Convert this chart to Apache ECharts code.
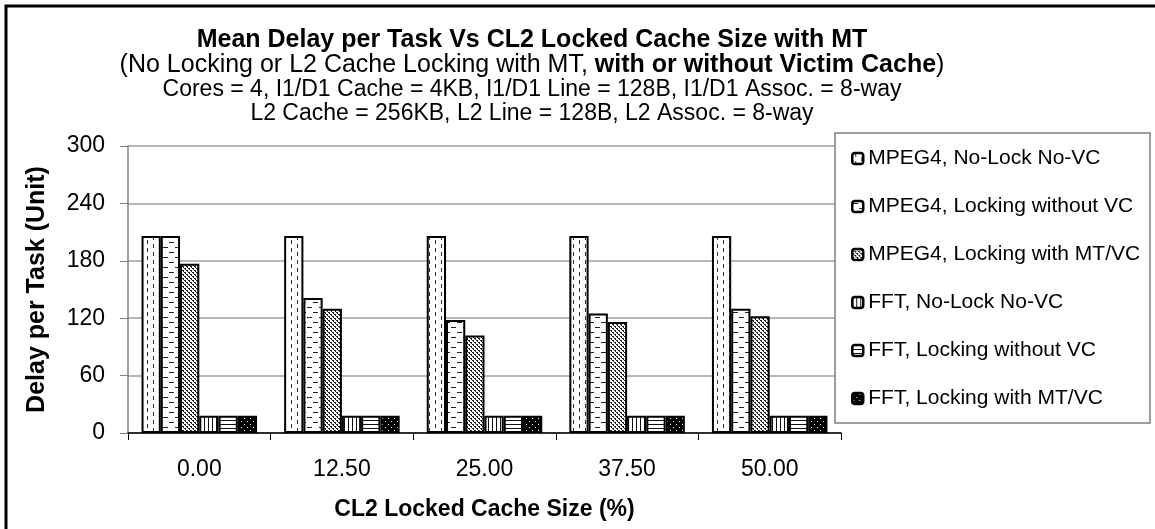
<!DOCTYPE html>
<html>
<head>
<meta charset="utf-8">
<script src="https://cdn.jsdelivr.net/npm/echarts@6/dist/echarts.min.js"></script>
<style>
html,body{margin:0;padding:0;background:#fff;}
#c{width:1155px;height:529px;}
</style>
</head>
<body>
<div id="c"></div>
<script>
// ---- data ----
const categories = ['0.00', '12.50', '25.00', '37.50', '50.00'];
const seriesNames = [
  'MPEG4, No-Lock No-VC',
  'MPEG4, Locking without VC',
  'MPEG4, Locking with MT/VC',
  'FFT, No-Lock No-VC',
  'FFT, Locking without VC',
  'FFT, Locking with MT/VC'
];
const mpegNoLock = [206, 206, 206, 206, 206];
const mpegLockNoVC = [206, 141, 118, 125, 130];
const mpegLockMTVC = [177, 130, 102, 116, 122];
const fftNoLock = [18, 18, 18, 18, 18];
const fftLockNoVC = [18, 18, 18, 18, 18];
const fftLockMTVC = [18, 18, 18, 18, 18];
const yTicks = [0, 60, 120, 180, 240, 300];

const titleLines = [
  'Mean Delay per Task Vs CL2 Locked Cache Size with MT',
  '(No Locking or L2 Cache Locking with MT, ',
  'with or without Victim Cache',
  ')',
  'Cores = 4, I1/D1 Cache = 4KB, I1/D1 Line = 128B, I1/D1 Assoc. = 8-way',
  'L2 Cache = 256KB, L2 Line = 128B, L2 Assoc. = 8-way'
];

// ---- patterns ----
function tile(w, h, bg, fg, rects) {
  const c = document.createElement('canvas');
  c.width = w; c.height = h;
  const g = c.getContext('2d');
  g.fillStyle = bg; g.fillRect(0, 0, w, h);
  g.fillStyle = fg;
  rects.forEach(r => g.fillRect(r[0], r[1], r[2], r[3]));
  return { image: c, repeat: 'repeat' };
}
const patterns = [
  tile(12, 8, '#fff', '#333', [[3, 0, 1, 4], [9, 4, 1, 4]]),
  tile(12, 10, '#fff', '#222', [[1, 2, 5, 1], [7, 7, 5, 1]]),
  tile(4, 4, '#fff', '#222', [[0, 0, 2, 1], [2, 2, 2, 1], [1, 1, 1, 1], [3, 3, 1, 1]]),
  tile(4, 2, '#fff', '#111', [[0, 0, 1, 2]]),
  tile(2, 4, '#fff', '#111', [[0, 0, 2, 1]]),
  tile(6, 6, '#000', '#fff', [[1, 1, 1, 1], [4, 4, 1, 1]])
];
const seriesData = [mpegNoLock, mpegLockNoVC, mpegLockMTVC, fftNoLock, fftLockNoVC, fftLockMTVC];

const FF = '"Liberation Sans", Arial, sans-serif';

const chart = echarts.init(document.getElementById('c'), null, { renderer: 'canvas' });
chart.setOption({
  animation: false,
  backgroundColor: '#fff',
  grid: { left: 128, right: 314, top: 146, bottom: 96, containLabel: false },
  xAxis: {
    type: 'category',
    data: categories,
    name: 'CL2 Locked Cache Size (%)',
    nameLocation: 'middle',
    nameGap: 65,
    nameTextStyle: { fontFamily: FF, fontSize: 23, fontWeight: 'bold', color: '#000' },
    axisLine: { lineStyle: { color: '#000', width: 1.5 } },
    axisTick: { show: true, length: 7, lineStyle: { color: '#000' } },
    axisLabel: { fontFamily: FF, fontSize: 23, color: '#000', margin: 25 },
    splitLine: { show: false }
  },
  yAxis: {
    type: 'value',
    min: 0, max: 300, interval: 60,
    name: 'Delay per Task (Unit)',
    nameLocation: 'middle',
    nameGap: 78,
    nameTextStyle: { fontFamily: FF, fontSize: 25, fontWeight: 'bold', color: '#000' },
    axisLine: { show: true, lineStyle: { color: '#808080', width: 1.5 } },
    axisTick: { show: true, length: 8, lineStyle: { color: '#808080' } },
    axisLabel: { fontFamily: FF, fontSize: 23, color: '#000', margin: 23,
      formatter: v => (yTicks.indexOf(v) >= 0 ? String(v) : '') },
    splitLine: { show: true, lineStyle: { color: '#a0a0a0', width: 1.5 } }
  },
  legend: {
    orient: 'vertical',
    left: 835, top: 133,
    padding: [15, 10, 14, 16],
    itemGap: 27,
    itemWidth: 11, itemHeight: 11,
    z: 6,
    data: seriesNames,
    itemStyle: { borderWidth: 2.5 },
    textStyle: { fontFamily: FF, fontSize: 21, color: '#000' }
  },
  graphic: [
    { type: 'rect', z: 5, shape: { x: 835, y: 133, width: 315, height: 290 },
      style: { fill: '#fff', stroke: '#808080', lineWidth: 1.5 } },
    { type: 'rect', z: 10, shape: { x: 6, y: 6, width: 1170, height: 540 },
      style: { fill: 'none', stroke: '#000', lineWidth: 3 } },
    { type: 'text', x: 532, y: 40, z: 10,
      style: { text: titleLines[0], font: 'bold 25px ' + FF, fill: '#000', align: 'center', verticalAlign: 'middle' } },
    { type: 'text', x: 532, y: 65, z: 10,
      style: { text: '{n|' + titleLines[1] + '}{b|' + titleLines[2] + '}{n|' + titleLines[3] + '}',
        rich: { n: { fontFamily: FF, fontSize: 25, fill: '#000' }, b: { fontFamily: FF, fontSize: 25, fontWeight: 'bold', fill: '#000' } },
        fill: '#000', align: 'center', verticalAlign: 'middle' } },
    { type: 'text', x: 532, y: 90, z: 10,
      style: { text: titleLines[4], font: '23px ' + FF, fill: '#000', align: 'center', verticalAlign: 'middle' } },
    { type: 'text', x: 532, y: 114, z: 10,
      style: { text: titleLines[5], font: '23px ' + FF, fill: '#000', align: 'center', verticalAlign: 'middle' } }
  ],
  series: seriesNames.map((n, i) => ({
    name: n,
    type: 'bar',
    data: seriesData[i],
    barGap: '0%',
    barCategoryGap: '19%',
    itemStyle: { color: patterns[i], borderColor: '#000', borderWidth: 2 }
  }))
});
</script>
</body>
</html>
